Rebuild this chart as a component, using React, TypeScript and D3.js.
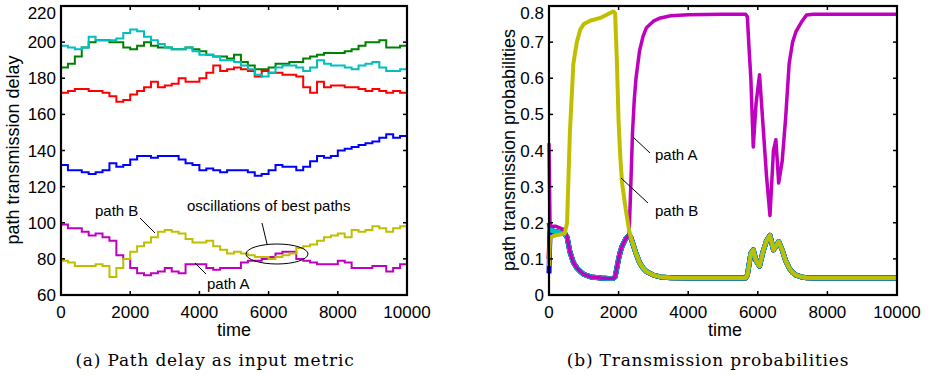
import * as d3 from 'd3';

// ---- left panel: path delays, sampled every 200 time units ----
const delayTime = d3.range(0, 10001, 200);

const delayGreen = [186, 188, 192, 197, 200, 201, 201, 200, 200, 197, 196, 198, 200, 198, 197, 197, 196, 196, 197, 196, 195, 193, 192, 192, 191, 193, 189, 187, 185, 185, 186, 188, 188, 189, 189, 191, 192, 193, 194, 194, 194, 195, 196, 198, 200, 200, 201, 197, 197, 198, 195];
const delayCyan = [198, 197, 196, 197, 203, 201, 201, 201, 202, 205, 207, 206, 203, 201, 199, 197, 196, 196, 197, 195, 193, 193, 192, 190, 190, 189, 187, 185, 182, 181, 183, 186, 187, 187, 186, 184, 186, 190, 188, 187, 187, 186, 185, 187, 188, 189, 186, 184, 184, 185, 184];
const delayRed = [172, 173, 174, 174, 173, 173, 172, 170, 167, 168, 171, 173, 175, 178, 175, 176, 177, 180, 178, 178, 180, 183, 187, 184, 185, 186, 185, 184, 181, 184, 183, 183, 182, 182, 181, 175, 172, 178, 175, 176, 176, 175, 175, 174, 173, 174, 173, 172, 173, 172, 174];
const delayBlue = [132, 129, 129, 128, 127, 128, 129, 133, 131, 132, 135, 137, 137, 136, 137, 137, 137, 135, 133, 132, 129, 130, 129, 128, 129, 129, 129, 128, 126, 127, 129, 132, 131, 131, 129, 131, 134, 137, 136, 137, 140, 141, 142, 143, 144, 145, 147, 149, 147, 148, 150];
const delayPathA = [99, 97, 97, 95, 93, 94, 92, 90, 82, 80, 75, 72, 71, 72, 73, 75, 73, 72, 77, 77, 77, 75, 74, 75, 75, 75, 78, 79, 79, 80, 81, 83, 84, 84, 80, 79, 78, 77, 77, 77, 79, 78, 75, 75, 75, 76, 76, 73, 75, 77, 82];
const delayPathB = [79, 78, 76, 76, 76, 77, 76, 70, 75, 80, 84, 87, 89, 92, 95, 96, 95, 94, 91, 89, 89, 90, 87, 85, 83, 84, 83, 82, 81, 81, 80, 81, 82, 83, 86, 87, 88, 90, 92, 93, 94, 92, 96, 95, 96, 98, 97, 95, 97, 98, 93];

const delayTicks = [60, 80, 100, 120, 140, 160, 180, 200, 220];
const timeTicks = [0, 2000, 4000, 6000, 8000, 10000];

// ---- right panel: transmission probabilities ----
const probTime = [0, 30, 200, 450, 520, 600, 700, 800, 900, 1000, 1200, 1500, 1700, 1850, 1900, 1950, 2000, 2050, 2100, 2200, 2300, 2350, 2400, 2450, 2500, 2600, 2700, 2800, 3000, 3200, 3500, 4000, 5000, 5650, 5700, 5750, 5800, 5870, 5950, 6050, 6150, 6250, 6350, 6450, 6520, 6600, 6700, 6800, 6900, 7000, 7100, 7250, 7400, 7600, 8000, 9000, 10000];

const probPathA = [0.42, 0.19, 0.19, 0.18, 0.16, 0.12, 0.09, 0.075, 0.065, 0.057, 0.05, 0.047, 0.046, 0.046, 0.05, 0.075, 0.1, 0.12, 0.135, 0.155, 0.165, 0.3, 0.45, 0.54, 0.6, 0.675, 0.715, 0.74, 0.758, 0.767, 0.773, 0.776, 0.777, 0.777, 0.77, 0.68, 0.6, 0.41, 0.53, 0.61, 0.47, 0.33, 0.22, 0.4, 0.43, 0.31, 0.37, 0.49, 0.64, 0.7, 0.73, 0.755, 0.775, 0.777, 0.777, 0.777, 0.777];
const probPathB = [0.08, 0.16, 0.165, 0.17, 0.2, 0.45, 0.64, 0.7, 0.735, 0.75, 0.76, 0.768, 0.778, 0.785, 0.78, 0.65, 0.48, 0.38, 0.31, 0.24, 0.18, 0.16, 0.145, 0.13, 0.115, 0.09, 0.075, 0.065, 0.055, 0.05, 0.048, 0.047, 0.047, 0.047, 0.055, 0.085, 0.115, 0.125, 0.095, 0.08, 0.12, 0.15, 0.165, 0.125, 0.135, 0.148, 0.125, 0.095, 0.075, 0.062, 0.055, 0.05, 0.048, 0.047, 0.047, 0.047, 0.047];
const probOther = [0.09, 0.18, 0.175, 0.17, 0.16, 0.12, 0.09, 0.075, 0.065, 0.057, 0.05, 0.047, 0.046, 0.046, 0.05, 0.075, 0.1, 0.12, 0.135, 0.155, 0.165, 0.16, 0.145, 0.13, 0.115, 0.09, 0.075, 0.065, 0.055, 0.05, 0.048, 0.047, 0.047, 0.047, 0.055, 0.085, 0.115, 0.125, 0.095, 0.08, 0.12, 0.15, 0.165, 0.125, 0.135, 0.148, 0.125, 0.095, 0.075, 0.062, 0.055, 0.05, 0.048, 0.047, 0.047, 0.047, 0.047];
const otherStart = { red: 0.1, green: 0.2, blue: 0.06, cyan: 0.19 };

const probTicks = [0, 0.1, 0.2, 0.3, 0.4, 0.5, 0.6, 0.7, 0.8];

const C = {
  green: '#008000',
  cyan: '#00bfbf',
  red: '#ff0000',
  blue: '#0000ff',
  magenta: '#bf00bf',
  yellow: '#bfbf00',
};

const sans = 'Liberation Sans, Arial, sans-serif';
const serif = 'DejaVu Serif, serif';

function Frame({ x, y, xTicks, yTicks, yFmt }) {
  const [x0, x1] = x.range();
  const [y0, y1] = y.range();
  return (
    <g>
      {xTicks.map((t) => (
        <g key={'x' + t}>
          <line x1={x(t)} x2={x(t)} y1={y0} y2={y0 - 4} stroke="#000" strokeWidth={1.5} />
          <line x1={x(t)} x2={x(t)} y1={y1} y2={y1 + 4} stroke="#000" strokeWidth={1.5} />
          <text x={x(t)} y={y0 + 23} textAnchor="middle" fontSize={17} fontFamily={sans}>{t}</text>
        </g>
      ))}
      {yTicks.map((t) => (
        <g key={'y' + t}>
          <line x1={x0} x2={x0 + 4} y1={y(t)} y2={y(t)} stroke="#000" strokeWidth={1.5} />
          <line x1={x1} x2={x1 - 4} y1={y(t)} y2={y(t)} stroke="#000" strokeWidth={1.5} />
          <text x={x0 - 5} y={Math.max(y(t) + 6, 19)} textAnchor="end" fontSize={17} fontFamily={sans}>{yFmt(t)}</text>
        </g>
      ))}
      <rect x={x0} y={y1} width={x1 - x0} height={y0 - y1} fill="none" stroke="#000" strokeWidth={2.2} />
    </g>
  );
}

export default function App() {
  // left panel scales
  const xL = d3.scaleLinear().domain([0, 10000]).range([61, 407]);
  const yL = d3.scaleLinear().domain([60, 220]).range([295, 6]);
  const stepLine = (vals) =>
    d3.line().x((d, i) => xL(delayTime[i])).y((d) => yL(d)).curve(d3.curveStepAfter)(vals);

  // right panel scales
  const xR = d3.scaleLinear().domain([0, 10000]).range([549, 897]);
  const yR = d3.scaleLinear().domain([0, 0.8]).range([295, 6]);
  const probLine = (vals) => d3.line().x((d, i) => xR(probTime[i])).y((d) => yR(d))(vals);

  const leftSeries = [
    [delayBlue, C.blue],
    [delayRed, C.red],
    [delayGreen, C.green],
    [delayCyan, C.cyan],
    [delayPathA, C.magenta],
    [delayPathB, C.yellow],
  ];

  const others = Object.keys(otherStart).map((k) => [
    probOther.map((v, i) => (i === 0 ? otherStart[k] : v)),
    C[k],
  ]);

  return (
    <svg width={937} height={379} style={{ position: 'absolute', left: 0, top: 0, background: '#fff' }}>
      {/* left panel */}
      <g>
        {leftSeries.map(([vals, col], i) => (
          <path key={i} d={stepLine(vals)} fill="none" stroke={col} strokeWidth={2} />
        ))}
        <ellipse cx={277} cy={254} rx={31} ry={10} fill="none" stroke="#000" strokeWidth={1} />
        <line x1={262} y1={223} x2={267} y2={244} stroke="#000" strokeWidth={1} />
        <text x={187} y={211} fontSize={15} fontFamily={sans}>oscillations of best paths</text>
        <line x1={140} y1={218} x2={155} y2={233} stroke="#000" strokeWidth={1} />
        <text x={95} y={216} fontSize={15} fontFamily={sans}>path B</text>
        <line x1={195} y1={263} x2={206} y2={274} stroke="#000" strokeWidth={1} />
        <text x={207} y={289} fontSize={15} fontFamily={sans}>path A</text>
        <Frame x={xL} y={yL} xTicks={timeTicks} yTicks={delayTicks} yFmt={(t) => t} />
        <text x={234} y={336} textAnchor="middle" fontSize={18} fontFamily={sans}>time</text>
        <text transform="translate(19,150) rotate(-90)" textAnchor="middle" fontSize={18} fontFamily={sans}>path transmission delay</text>
        <text x={215} y={366} textAnchor="middle" fontSize={17} letterSpacing={0.8} fontFamily={serif}>(a)  Path delay as input metric</text>
      </g>

      {/* right panel */}
      <g>
        {others.map(([vals, col], i) => (
          <path key={i} d={probLine(vals)} fill="none" stroke={col} strokeWidth={5} strokeLinejoin="round" />
        ))}
        <path d={probLine(probPathA)} fill="none" stroke={C.magenta} strokeWidth={3.5} strokeLinejoin="round" />
        <path d={probLine(probPathB)} fill="none" stroke={C.yellow} strokeWidth={4} strokeLinejoin="round" />
        <line x1={633} y1={137} x2={650} y2={153} stroke="#000" strokeWidth={1} />
        <text x={655} y={160} fontSize={15} fontFamily={sans}>path A</text>
        <line x1={621} y1={178} x2={648} y2={203} stroke="#000" strokeWidth={1} />
        <text x={655} y={216} fontSize={15} fontFamily={sans}>path B</text>
        <Frame x={xR} y={yR} xTicks={timeTicks} yTicks={probTicks} yFmt={(t) => (t === 0 ? '0' : d3.format('.1f')(t))} />
        <text x={725} y={336} textAnchor="middle" fontSize={18} fontFamily={sans}>time</text>
        <text transform="translate(515,150) rotate(-90)" textAnchor="middle" fontSize={18} fontFamily={sans}>path transmission probabilities</text>
        <text x={708} y={366} textAnchor="middle" fontSize={17} letterSpacing={0.8} fontFamily={serif}>(b)  Transmission probabilities</text>
      </g>
    </svg>
  );
}
